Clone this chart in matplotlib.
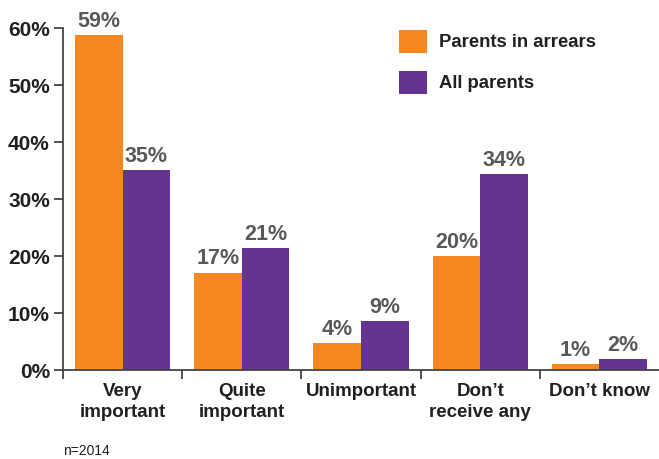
import numpy as np
import matplotlib
matplotlib.use("Agg")
import matplotlib.pyplot as plt

categories = ["Very\nimportant", "Quite\nimportant", "Unimportant", "Don\u2019t\nreceive any", "Don\u2019t know"]
arrears = [58.8, 17.1, 4.7, 20.0, 1.05]
all_parents = [35.1, 21.4, 8.6, 34.4, 1.9]
arrears_labels = ["59%", "17%", "4%", "20%", "1%"]
all_labels = ["35%", "21%", "9%", "34%", "2%"]
yticks = [0, 10, 20, 30, 40, 50, 60]

ORANGE = "#F58920"
PURPLE = "#633492"
DARK = "#231F20"
GREY = "#58595B"

plt.rcParams["font.family"] = ["Liberation Sans", "DejaVu Sans"]

W, H = 659, 459
fig = plt.figure(figsize=(W / 100, H / 100), dpi=100)
ax = fig.add_axes([63 / W, 1 - 370 / H, (659 - 63) / W, (370 - 28.3) / H])

x = np.arange(len(categories))
bw = 0.4
b1 = ax.bar(x - bw / 2, arrears, bw, color=ORANGE, label="Parents in arrears")
b2 = ax.bar(x + bw / 2, all_parents, bw, color=PURPLE, label="All parents")

for bars, labs in [(b1, arrears_labels), (b2, all_labels)]:
    for rect, lab in zip(bars, labs):
        ax.annotate(lab, (rect.get_x() + rect.get_width() / 2, rect.get_height()),
                    xytext=(0, 2.5), textcoords="offset points", ha="center", va="bottom",
                    fontsize=15.5, fontweight="bold", color=GREY, clip_on=False)

ax.set_xlim(-0.5, len(categories) - 0.5)
ax.set_ylim(0, 60)
ax.set_yticks(yticks)
ax.set_yticklabels([f"{v}%" for v in yticks], fontsize=15, fontweight="bold", color=DARK)
ax.tick_params(axis="y", length=6.5, width=1.3, color="#444444", pad=3)

ax.set_xticks(x)
ax.set_xticklabels(categories, fontsize=13.5, fontweight="bold", color=DARK, linespacing=1.35)
ax.set_xticks(np.arange(-0.5, len(categories) - 0.5, 1.0), minor=True)
ax.tick_params(axis="x", which="major", length=0, pad=9)
ax.tick_params(axis="x", which="minor", length=6.5, width=1.3, color="#444444")

for s in ["top", "right"]:
    ax.spines[s].set_visible(False)
for s in ["left", "bottom"]:
    ax.spines[s].set_color("#444444")
    ax.spines[s].set_linewidth(1.3)

ax.legend(loc="upper left", bbox_to_anchor=(399 / W, 1 - 30 / H), bbox_transform=fig.transFigure,
          frameon=False, borderpad=0, borderaxespad=0, handlelength=1.5, handleheight=1.5,
          handletextpad=0.67, labelspacing=1.0,
          prop={"size": 13.3, "weight": "bold"}, labelcolor=DARK)

fig.text(63 / W, 1 - 444 / H, "n=2014", fontsize=10, color=DARK, ha="left", va="top")

fig.savefig("out.png", dpi=100)
